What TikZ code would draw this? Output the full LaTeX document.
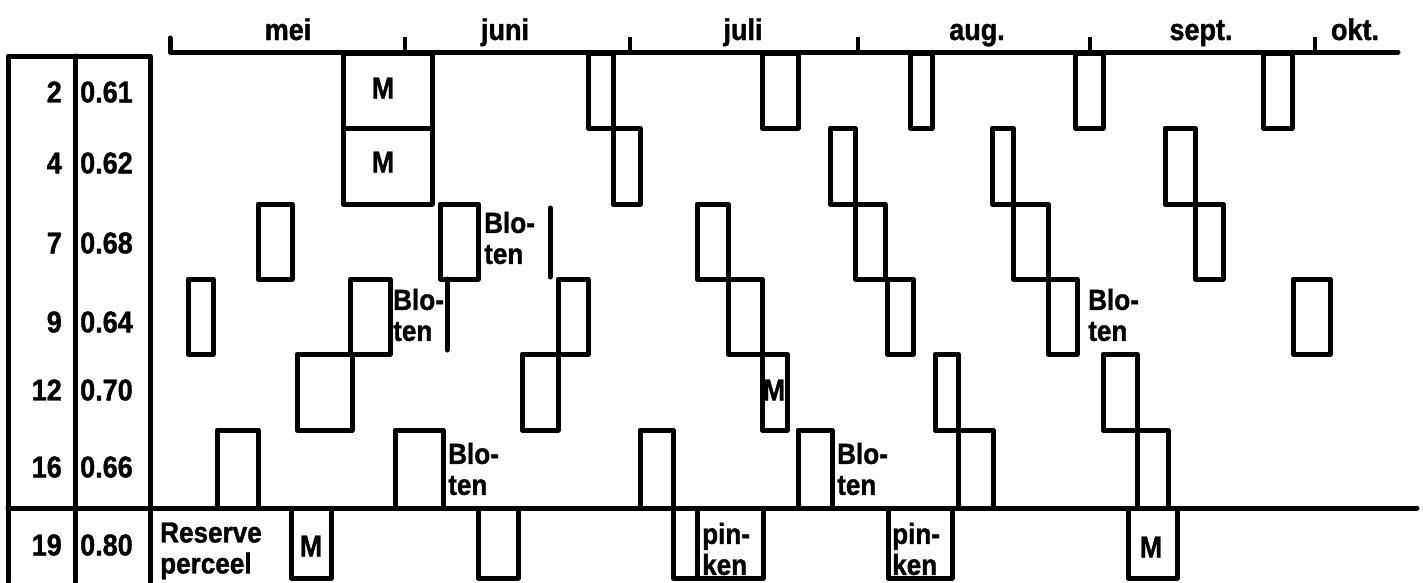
\documentclass[tikz,border=0pt]{standalone}
\usepackage{fontspec}
\setmainfont{Liberation Sans}[FakeStretch=0.9, BoldFeatures={FakeBold=1.2}]
\begin{document}
\begin{tikzpicture}[x=1pt,y=-1pt,
  ln/.style={line width=5pt, line cap=round, line join=round},
  tick/.style={line width=3.5pt},
  cell/.style={ln},
  txt/.style={font=\fontsize{30}{32}\selectfont\bfseries, inner sep=0pt},
  month/.style={txt, anchor=base},
  num/.style={txt, anchor=east},
  val/.style={txt, anchor=west},
  note/.style={txt, anchor=west, align=left, font=\fontsize{29}{31}\selectfont\bfseries}]
\useasboundingbox (0,0) rectangle (1423,582);

% one treatment block: left x, right x, top y, bottom y
\newcommand\cellbox[4]{\draw[cell] (#1,#3) rectangle (#2,#4);}
\newcommand\rowA[2]{\cellbox{#1}{#2}{53}{128}}
\newcommand\rowB[2]{\cellbox{#1}{#2}{128}{204}}
\newcommand\rowC[2]{\cellbox{#1}{#2}{204}{279}}
\newcommand\rowD[2]{\cellbox{#1}{#2}{279}{354}}
\newcommand\rowE[2]{\cellbox{#1}{#2}{354}{430}}
\newcommand\rowF[2]{\cellbox{#1}{#2}{430}{508}}
\newcommand\rowG[2]{\cellbox{#1}{#2}{508}{578}}

% time axis with month ticks
\draw[ln] (170,38) -- (170,52) -- (1398,52);
\foreach \t in {405,630,858,1090,1315} \draw[tick] (\t,52) -- (\t,37);
\node[month] (mmei)  at (288,40)  {mei};
\node[month] (mjun)  at (505,40)  {juni};
\node[month] (mjul)  at (743,40)  {juli};
\node[month] (maug)  at (977,40)  {aug.};
\node[month] (msep)  at (1201,40) {sept.};
\node[month] (mokt)  at (1355,40) {okt.};

% left table
\draw[ln] (8,582) -- (8,56) -- (150,56) -- (150,582);
\draw[ln] (75,56) -- (75,582);
\draw[ln] (8,508) -- (1417,508);

\node[num] (n2)  at (62,92)  {2};   \node[val] (v2)  at (80,92)  {0.61};
\node[num] (n4)  at (62,163) {4};   \node[val] (v4)  at (80,163) {0.62};
\node[num] (n7)  at (62,243) {7};   \node[val] (v7)  at (80,243) {0.68};
\node[num] (n9)  at (62,322) {9};   \node[val] (v9)  at (80,322) {0.64};
\node[num] (n12) at (62,390) {12};  \node[val] (v12) at (80,390) {0.70};
\node[num] (n16) at (62,467) {16};  \node[val] (v16) at (80,467) {0.66};
\node[num] (n19) at (62,545) {19};  \node[val] (v19) at (80,545) {0.80};

% row 2
\rowA{343}{432} \rowA{588}{613} \rowA{762}{798} \rowA{910}{932}
\rowA{1075}{1103} \rowA{1263}{1292}
% row 4
\rowB{343}{432} \rowB{613}{640} \rowB{830}{855} \rowB{992}{1013}
\rowB{1165}{1195}
% row 7
\rowC{258}{292} \rowC{440}{478} \rowC{697}{728} \rowC{855}{885}
\rowC{1013}{1048} \rowC{1195}{1223}
% row 9
\rowD{188}{213} \rowD{350}{390} \rowD{558}{588} \rowD{728}{762}
\rowD{887}{913} \rowD{1048}{1077} \rowD{1293}{1330}
% row 12
\rowE{297}{352} \rowE{522}{558} \rowE{762}{787} \rowE{935}{958}
\rowE{1103}{1137}
% row 16
\rowF{217}{258} \rowF{395}{443} \rowF{640}{673} \rowF{798}{832}
\rowF{958}{993} \rowF{1137}{1168}
% row 19 (reserve plot)
\rowG{291}{331} \rowG{478}{518} \rowG{673}{697} \rowG{697}{763}
\rowG{888}{952} \rowG{1128}{1177}

% mowing marks
\node[txt] (m2)  at (383,88)  {M};
\node[txt] (m4)  at (383,162) {M};
\node[txt] (m12) at (774,390) {M};
\node[txt] (m19a) at (311,546) {M};
\node[txt] (m19b) at (1151,547) {M};

% bare-soil markers
\draw[ln] (550,208) -- (550,277);
\draw[ln] (447,279) -- (447,350);
\node[note] (b7)  at (484,238) {Blo-\\ten};
\node[note] (b9)  at (393,315) {Blo-\\ten};
\node[note] (b9r) at (1088,315) {Blo-\\ten};
\node[note] (b16a) at (448,469) {Blo-\\ten};
\node[note] (b16b) at (837,469) {Blo-\\ten};

% bottom row texts
\node[note] (res) at (160,551) {Reserve\\perceel};
\node[note] (p1)  at (702,549) {pin-\\ken};
\node[note] (p2)  at (892,549) {pin-\\ken};
\end{tikzpicture}
\end{document}
